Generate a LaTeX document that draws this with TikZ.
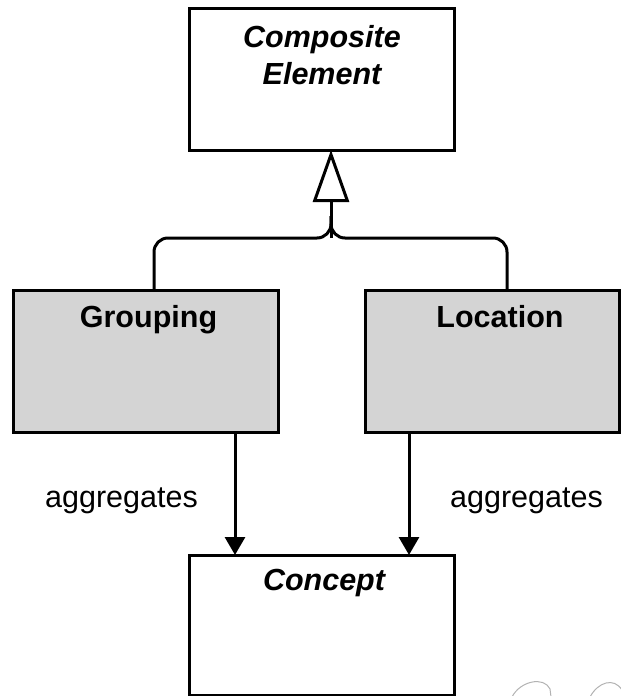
\documentclass[tikz,border=0pt]{standalone}
\usepackage{fontspec}
\setmainfont{Liberation Sans}
\usetikzlibrary{arrows.meta}

\tikzset{
  classbox/.style={draw=black, line width=3pt, rectangle, inner sep=0pt, outer sep=0pt},
  plainbox/.style={classbox, fill=white},
  greybox/.style={classbox, fill=black!17},
  titletext/.style={inner sep=0pt, font=\fontsize{30.5}{37}\selectfont\bfseries},
  abstracttext/.style={titletext, font=\fontsize{30.5}{37}\selectfont\bfseries\itshape},
  roletext/.style={inner sep=0pt, font=\fontsize{30.5}{37}\selectfont},
  generalize/.style={draw=black, line width=3pt, line join=miter,
    -{Triangle[open, length=52pt, width=36pt]}},
  branch/.style={draw=black, line width=3pt, rounded corners=14pt},
  aggregation/.style={draw=black, line width=3pt,
    -{Triangle[length=18pt, width=20pt]}},
  sketch/.style={draw=black!30, line width=1pt}
}

\begin{document}
\begin{tikzpicture}[x=1pt, y=-1pt]
  \useasboundingbox (0,0) rectangle (621,696);

  % class boxes
  \node[plainbox, minimum width=265pt, minimum height=142pt] (comp) at (321.5,79) {};
  \node[greybox,  minimum width=265pt, minimum height=142pt] (grp)  at (145.5,361) {};
  \node[greybox,  minimum width=254pt, minimum height=142pt] (loc)  at (492,361) {};
  \node[plainbox, minimum width=265pt, minimum height=140pt] (con)  at (321.5,625) {};

  % class names
  \node[abstracttext, anchor=north, align=center] (compT) at (322,25) {Composite\\Element};
  \node[titletext, anchor=base] (grpT) at (148.5,327) {Grouping};
  \node[titletext, anchor=base] (locT) at (500,327) {Location};
  \node[abstracttext, anchor=base] (conT) at (324,590) {Concept};

  % generalization: two branches joined into one stem
  \coordinate (junc) at (331,238);
  \coordinate (gx) at (154,0);
  \coordinate (lx) at (507,0);
  \path[branch] (grp.north -| gx) |- (junc) -- ++(0,-22);
  \path[branch] (loc.north -| lx) |- (junc) -- ++(0,-22);
  \path[generalize] (junc) -- (comp.south -| junc);

  % aggregation links
  \coordinate (ga) at (235,0);
  \coordinate (la) at (409,0);
  \path[aggregation] (grp.south -| ga) -- (con.north -| ga);
  \path[aggregation] (loc.south -| la) -- (con.north -| la);

  % link labels
  \node[roletext, anchor=base] (agg1) at (121.5,507) {aggregates};
  \node[roletext, anchor=base] (agg2) at (526.5,507) {aggregates};

  % faint pencil strokes in the corner
  \draw[sketch] (512,697) .. controls (520,681) and (544,676) .. (550,689) -- (551,697);
  \draw[sketch] (590,697) .. controls (598,682) and (614,677) .. (622,690);
\end{tikzpicture}
\end{document}
